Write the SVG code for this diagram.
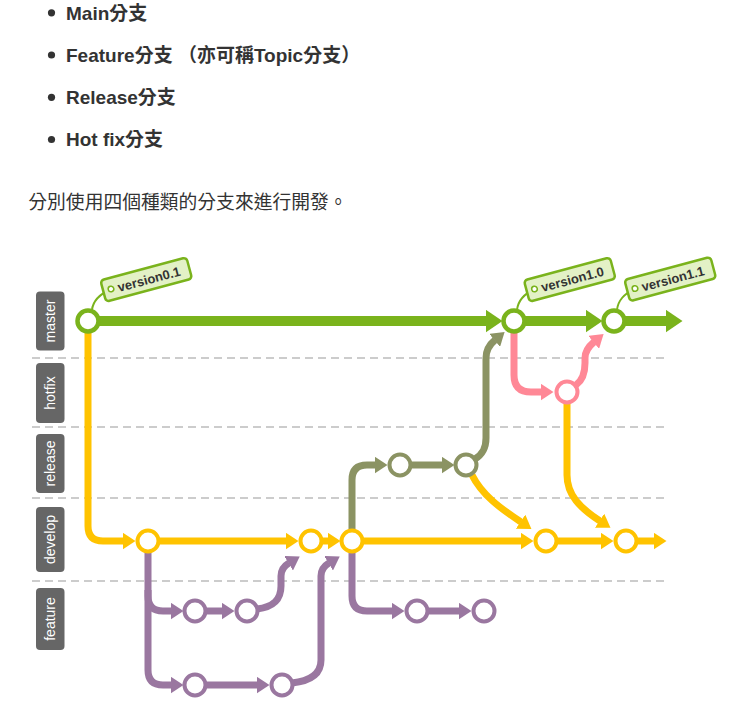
<svg xmlns="http://www.w3.org/2000/svg" width="739" height="725" viewBox="0 0 739 725">
<style>
.li{font-family:"Liberation Sans","Noto Sans CJK TC",sans-serif;font-weight:bold;font-size:19px;fill:#333}
.p{font-family:"Liberation Sans","Noto Sans CJK TC",sans-serif;font-size:18.8px;fill:#333}
.lane rect{fill:#666}
.lane text{font-family:"Liberation Sans",sans-serif;font-size:14px;fill:#fff;text-anchor:middle}
.dash{stroke:#ccc;stroke-width:2;stroke-dasharray:8 5;fill:none}
.c{fill:none;stroke-width:7}
.g{stroke:#7ab31c}
.y{stroke:#ffc300}
.o{stroke:#8b9363}
.k{stroke:#ff8896}
.u{stroke:#9a77a0}
.n{fill:#fff;stroke-width:4}
.tag rect{fill:#e3f1c6;stroke:#7ab31c;stroke-width:2.5}
.tag circle{fill:#fff;stroke:#7ab31c;stroke-width:1.5}
.tag text{font-family:"Liberation Sans",sans-serif;font-weight:bold;font-size:13px;fill:#333}
.str{fill:none;stroke:#7ab31c;stroke-width:2}
</style>
<defs>
<marker id="mg" markerUnits="userSpaceOnUse" viewBox="0 0 17 23" refX="0.5" refY="11.5" markerWidth="17" markerHeight="23" orient="auto"><path d="M0,0 L17,11.5 L0,23 z" fill="#7ab31c"/></marker>
<marker id="my" markerUnits="userSpaceOnUse" viewBox="0 0 13 17" refX="0.5" refY="8.5" markerWidth="13" markerHeight="17" orient="auto"><path d="M0,0 L13,8.5 L0,17 z" fill="#ffc300"/></marker>
<marker id="mo" markerUnits="userSpaceOnUse" viewBox="0 0 13 17" refX="0.5" refY="8.5" markerWidth="13" markerHeight="17" orient="auto"><path d="M0,0 L13,8.5 L0,17 z" fill="#8b9363"/></marker>
<marker id="mk" markerUnits="userSpaceOnUse" viewBox="0 0 13 17" refX="0.5" refY="8.5" markerWidth="13" markerHeight="17" orient="auto"><path d="M0,0 L13,8.5 L0,17 z" fill="#ff8896"/></marker>
<marker id="mu" markerUnits="userSpaceOnUse" viewBox="0 0 13 17" refX="0.5" refY="8.5" markerWidth="13" markerHeight="17" orient="auto"><path d="M0,0 L13,8.5 L0,17 z" fill="#9a77a0"/></marker>
</defs>
<rect width="739" height="725" fill="#fff"/>
<g id="text">
<circle cx="51.5" cy="12.8" r="3.6" fill="#333"/>
<text class="li" x="66" y="19.5">Main分支</text>
<circle cx="51.5" cy="55" r="3.6" fill="#333"/>
<text class="li" x="66" y="61.7">Feature分支 （亦可稱Topic分支）</text>
<circle cx="51.5" cy="97.3" r="3.6" fill="#333"/>
<text class="li" x="66" y="104">Release分支</text>
<circle cx="51.5" cy="139.5" r="3.6" fill="#333"/>
<text class="li" x="66" y="146.2">Hot fix分支</text>
<text class="p" x="28.3" y="208.5">分別使用四個種類的分支來進行開發。</text>
</g>
<g id="lanes" class="lane">
<rect x="36" y="291.5" width="28.5" height="59" rx="4"/>
<text transform="translate(55,321) rotate(-90)">master</text>
<rect x="36" y="363" width="28.5" height="60" rx="4"/>
<text transform="translate(55,393) rotate(-90)">hotfix</text>
<rect x="36" y="434" width="28.5" height="59" rx="4"/>
<text transform="translate(55,463.5) rotate(-90)">release</text>
<rect x="36" y="507" width="28.5" height="65" rx="4"/>
<text transform="translate(55,539.5) rotate(-90)">develop</text>
<rect x="36" y="588" width="28.5" height="62" rx="4"/>
<text transform="translate(55,619) rotate(-90)">feature</text>
</g>
<g id="separators">
<line class="dash" x1="32" y1="358" x2="666" y2="358"/>
<line class="dash" x1="32" y1="427" x2="666" y2="427"/>
<line class="dash" x1="32" y1="498" x2="666" y2="498"/>
<line class="dash" x1="32" y1="581" x2="666" y2="581"/>
</g>
<g id="connectors">
<path class="c g" style="stroke-width:10" d="M99 321 L486 321" marker-end="url(#mg)"/>
<path class="c g" style="stroke-width:10" d="M525 321 L586 321" marker-end="url(#mg)"/>
<path class="c g" style="stroke-width:10" d="M625 321 L666 321" marker-end="url(#mg)"/>
<path class="c y" d="M88 332 L88 526 Q88 541 103 541 L123 541" marker-end="url(#my)"/>
<path class="c y" d="M159 541 L286 541" marker-end="url(#my)"/>
<path class="c y" d="M322 541 L328 541" marker-end="url(#my)"/>
<path class="c y" d="M363 541 L521 541" marker-end="url(#my)"/>
<path class="c y" d="M557 541 L601 541" marker-end="url(#my)"/>
<path class="c y" d="M637 541 L654 541" marker-end="url(#my)"/>
<path class="c y" d="M472 475 C482 495 500 508 521 522" marker-end="url(#my)"/>
<path class="c y" d="M567 403 L567 475 C567 495 580 508 600 521" marker-end="url(#my)"/>
<path class="c o" d="M352 530 L352 480 Q352 465 367 465 L375 465" marker-end="url(#mo)"/>
<path class="c o" d="M411 465 L442 465" marker-end="url(#mo)"/>
<path class="c o" d="M475 459 C483 454 486 448 486 438 L486 358 C486 350 489 345 495 340" marker-end="url(#mo)"/>
<path class="c k" d="M514 332 L514 375 Q514 392 531 392 L541 392" marker-end="url(#mk)"/>
<path class="c k" d="M576 385 C583 380 585 373 585 363 L585 358 C585 352 588 347 594 342" marker-end="url(#mk)"/>
<path class="c u" d="M148 552 L148 596 Q148 611 163 611 L171 611" marker-end="url(#mu)"/>
<path class="c u" d="M148 590 L148 670 Q148 685 163 685 L171 685" marker-end="url(#mu)"/>
<path class="c u" d="M206 611 L222 611" marker-end="url(#mu)"/>
<path class="c u" d="M206 685 L257 685" marker-end="url(#mu)"/>
<path class="c u" d="M257 609 C273 607 281 600 281 586 L281 576 C281 570 284 566 289 563" marker-end="url(#mu)"/>
<path class="c u" d="M292 683 C311 681 321 674 321 660 L321 576 C321 570 324 566 329 563" marker-end="url(#mu)"/>
<path class="c u" d="M352 552 L352 596 Q352 611 367 611 L392 611" marker-end="url(#mu)"/>
<path class="c u" d="M428 611 L459 611" marker-end="url(#mu)"/>
<path class="str" d="M111 289 C100 294 93 300 92 310"/>
<path class="str" d="M534.5 289 C524 294 518 300 517 310"/>
<path class="str" d="M635 288.5 C624 294 618 300 617 310"/>
</g>
<g id="tag-v01" class="tag" transform="translate(111,289) rotate(-15)"><rect x="-8" y="-11" width="89" height="22" rx="3.5"/><circle r="2.8"/><text x="7" y="5">version0.1</text></g>
<g id="tag-v10" class="tag" transform="translate(534.5,289) rotate(-15)"><rect x="-8" y="-11" width="89" height="22" rx="3.5"/><circle r="2.8"/><text x="7" y="5">version1.0</text></g>
<g id="tag-v11" class="tag" transform="translate(635,288.5) rotate(-15)"><rect x="-8" y="-11" width="89" height="22" rx="3.5"/><circle r="2.8"/><text x="7" y="5">version1.1</text></g>
<g id="m1"><circle class="n g" style="stroke-width:4.5" cx="88" cy="321" r="10.5"/></g>
<g id="m2"><circle class="n g" style="stroke-width:4.5" cx="514" cy="321" r="10.5"/></g>
<g id="m3"><circle class="n g" style="stroke-width:4.5" cx="614" cy="321" r="10.5"/></g>
<g id="h1"><circle class="n k" cx="567" cy="392" r="10.5"/></g>
<g id="r1"><circle class="n o" cx="400" cy="465" r="10.5"/></g>
<g id="r2"><circle class="n o" cx="466" cy="465" r="10.5"/></g>
<g id="d1"><circle class="n y" cx="148" cy="541" r="10.5"/></g>
<g id="d2"><circle class="n y" cx="311" cy="541" r="10.5"/></g>
<g id="d3"><circle class="n y" cx="352" cy="541" r="10.5"/></g>
<g id="d4"><circle class="n y" cx="546" cy="541" r="10.5"/></g>
<g id="d5"><circle class="n y" cx="626" cy="541" r="10.5"/></g>
<g id="f1"><circle class="n u" cx="195" cy="611" r="10.5"/></g>
<g id="f2"><circle class="n u" cx="247" cy="611" r="10.5"/></g>
<g id="f3"><circle class="n u" cx="195" cy="685" r="10.5"/></g>
<g id="f4"><circle class="n u" cx="282" cy="685" r="10.5"/></g>
<g id="f5"><circle class="n u" cx="417" cy="611" r="10.5"/></g>
<g id="f6"><circle class="n u" cx="484" cy="611" r="10.5"/></g>
</svg>
